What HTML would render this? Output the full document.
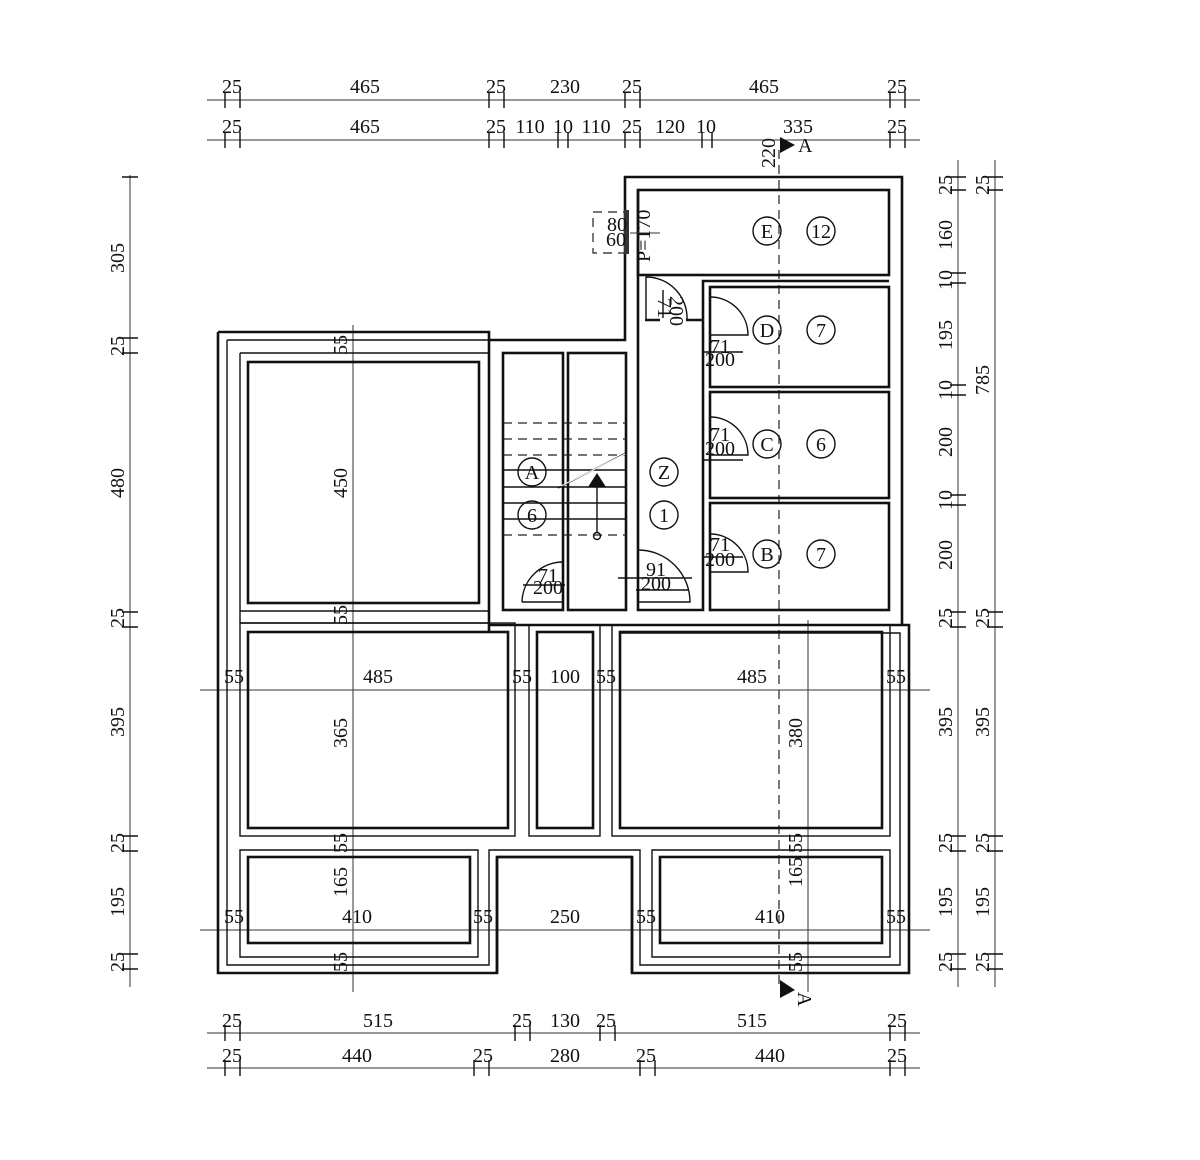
<!DOCTYPE html>
<html><head><meta charset="utf-8"><style>
html,body{margin:0;padding:0;background:#fff}
svg{display:block}
text{font-family:"Liberation Serif",serif;font-size:20px;fill:#111}
.t{stroke:#111;stroke-width:1.4;fill:none}
.b{stroke:#111;stroke-width:2.6;fill:none}
.th{stroke:#333;stroke-width:1;fill:none}
.d{stroke:#222;stroke-width:1.2;fill:none;stroke-dasharray:9 6}
</style></head><body>
<svg width="1200" height="1160" viewBox="0 0 1200 1160" xmlns="http://www.w3.org/2000/svg">
<g class="th">
<line x1="207" y1="100" x2="920" y2="100"/>
<line x1="207" y1="140" x2="920" y2="140"/>
<line x1="207" y1="1033" x2="920" y2="1033"/>
<line x1="207" y1="1068" x2="920" y2="1068"/>
<line x1="130" y1="175" x2="130" y2="987"/>
<line x1="958" y1="160" x2="958" y2="987"/>
<line x1="995" y1="160" x2="995" y2="987"/>
<line x1="200" y1="690" x2="930" y2="690"/>
<line x1="200" y1="930" x2="930" y2="930"/>
<line x1="353" y1="325" x2="353" y2="992"/>
<line x1="808" y1="620" x2="808" y2="992"/>
</g>
<g class="t" stroke-width="1.6">
<path d="M225 92v16M240 92v16M489 92v16M504 92v16M625 92v16M640 92v16M890 92v16M905 92v16"/>
<path d="M225 132v16M240 132v16M489 132v16M504 132v16M558 132v16M568 132v16M625 132v16M640 132v16M702 132v16M712 132v16M890 132v16M905 132v16"/>
<path d="M225 1025v16M240 1025v16M515 1025v16M530 1025v16M600 1025v16M615 1025v16M890 1025v16M905 1025v16"/>
<path d="M225 1060v16M240 1060v16M474 1060v16M489 1060v16M640 1060v16M655 1060v16M890 1060v16M905 1060v16"/>
<path d="M122 177h16M122 338h16M122 353h16M122 612h16M122 627h16M122 836h16M122 851h16M122 954h16M122 969h16"/>
<path d="M950 177h16M950 190h16M950 273h16M950 283h16M950 385h16M950 395h16M950 495h16M950 505h16M950 612h16M950 627h16M950 836h16M950 851h16M950 954h16M950 969h16"/>
<path d="M987 177h16M987 190h16M987 612h16M987 627h16M987 836h16M987 851h16M987 954h16M987 969h16"/>
</g>
<line class="d" x1="779" y1="150" x2="779" y2="990"/>
<polygon points="780,137 795,145 780,153" fill="#111"/>
<text x="798" y="152" font-size="14">A</text>
<text x="0" y="0" font-size="12" transform="translate(775,168) rotate(-90)">220</text>
<polygon points="780,980 795,990 780,998" fill="#111"/>
<text x="0" y="0" font-size="14" transform="translate(798,992) rotate(90)">A</text>

<g>
<path class="b" d="M218 332H489V631"/>
<path class="t" d="M227 340H489M240 353H489M240 353V623"/>
<rect class="b" x="248" y="362" width="231" height="241"/>
<path class="t" d="M240 611H489M240 623H489"/>
</g>
<path class="b" d="M218 332V973H497V857H632V973H909V625H489"/>
<path class="t" d="M227 340V965H489V850H640V965H900V633H620"/>
<rect class="t" x="240" y="623" width="275" height="213"/>
<rect class="b" x="248" y="632" width="260" height="196"/>
<rect class="t" x="529" y="625" width="71" height="211"/>
<rect class="b" x="537" y="632" width="56" height="196"/>
<rect class="t" x="612" y="625" width="278" height="211"/>
<rect class="b" x="620" y="632" width="262" height="196"/>
<path class="t" d="M240 957V850H478V957Z"/>
<rect class="b" x="248" y="857" width="222" height="86"/>
<path class="b" d="M497 857H632"/>
<path class="b" d="M497 857V973M632 857V973"/>
<path class="t" d="M652 957V850H890V957Z"/>
<rect class="b" x="660" y="857" width="222" height="86"/>

<path class="b" d="M490 340H625V177H902V625"/>
<rect class="b" x="503" y="353" width="60" height="257"/>
<rect class="b" x="568" y="353" width="58" height="257"/>
<path class="d" d="M503 423H626M503 439H626M503 455H626M503 535H626"/>
<path class="t" d="M503 470H626M503 487H626M503 503H626M503 519H626"/>
<line class="t" x1="558" y1="488" x2="626" y2="453" stroke-width="3"/>
<line x1="561" y1="486" x2="625" y2="454" stroke="#fff" stroke-width="1"/>
<polygon points="588,487 597,473 606,487" fill="#111"/>
<line class="t" x1="597" y1="487" x2="597" y2="533"/>
<circle class="t" cx="597" cy="536" r="3.5"/>
<rect class="b" x="638" y="190" width="251" height="85"/>
<path class="b" d="M638 190V610H703V281H889M703 281V610"/>
<rect class="b" x="710" y="287" width="179" height="100"/>
<rect class="b" x="710" y="392" width="179" height="106"/>
<rect class="b" x="710" y="503" width="179" height="107"/>
<path class="b" d="M645 320H660M686 320H703"/>
<g class="t">
<path d="M646 320V277A41 41 0 0 1 687 320"/>
<path d="M710 335H748A38 38 0 0 0 710 297"/>
<path d="M710 455H748A38 38 0 0 0 710 417"/>
<path d="M710 572H748A38 38 0 0 0 710 534"/>
<path d="M522 602H563V562A41 41 0 0 0 522 602"/>
<path d="M638 602H690A52 52 0 0 0 638 550"/>
<path d="M636 590h53M618 578h74M523 585h42M703 352h40M703 460h40M703 557h40M663 290v28"/>
</g>
<g text-anchor="middle" font-size="11">
<text x="720" y="353" font-size="11">71</text><text x="720" y="366" font-size="11">200</text>
<text x="720" y="441" font-size="11">71</text><text x="720" y="455" font-size="11">200</text>
<text x="720" y="551" font-size="11">71</text><text x="720" y="566" font-size="11">200</text>
<text x="548" y="582" font-size="11">71</text><text x="548" y="594" font-size="11">200</text>
<text x="656" y="576" font-size="11">91</text><text x="656" y="590" font-size="11">200</text>
</g>
<text x="0" y="0" font-size="11" transform="translate(658,298) rotate(90)">71</text>
<text x="0" y="0" font-size="11" transform="translate(670,296) rotate(90)">200</text>
<rect class="d" x="593" y="212" width="34" height="41" stroke-dasharray="5 4"/>
<rect x="624" y="210" width="5" height="44" fill="#333"/>
<text x="607" y="231" font-size="12">80</text><text x="606" y="246" font-size="12">60</text>
<path class="th" d="M630 233H660"/>
<text x="0" y="0" font-size="9" transform="translate(650,262) rotate(-90)">P=170</text>
<g class="t" stroke-width="1.2">
<circle cx="767" cy="231" r="14"/><circle cx="821" cy="231" r="14"/>
<circle cx="767" cy="330" r="14"/><circle cx="821" cy="330" r="14"/>
<circle cx="767" cy="444" r="14"/><circle cx="821" cy="444" r="14"/>
<circle cx="767" cy="554" r="14"/><circle cx="821" cy="554" r="14"/>
<circle cx="532" cy="472" r="14"/><circle cx="532" cy="515" r="14"/>
<circle cx="664" cy="472" r="14"/><circle cx="664" cy="515" r="14"/>
</g>
<g text-anchor="middle">
<text x="767" y="238">E</text><text x="821" y="238">12</text>
<text x="767" y="337">D</text><text x="821" y="337">7</text>
<text x="767" y="451">C</text><text x="821" y="451">6</text>
<text x="767" y="561">B</text><text x="821" y="561">7</text>
<text x="532" y="479">A</text><text x="532" y="522">6</text>
<text x="664" y="479">Z</text><text x="664" y="522">1</text>
<text x="232" y="93">25</text><text x="365" y="93">465</text><text x="496" y="93">25</text><text x="565" y="93">230</text><text x="632" y="93">25</text><text x="764" y="93">465</text><text x="897" y="93">25</text>
<text x="232" y="133">25</text><text x="365" y="133">465</text><text x="496" y="133">25</text><text x="530" y="133">110</text><text x="563" y="133">10</text><text x="596" y="133">110</text><text x="632" y="133">25</text><text x="670" y="133">120</text><text x="706" y="133">10</text><text x="798" y="133">335</text><text x="897" y="133">25</text>
<text x="232" y="1027">25</text><text x="378" y="1027">515</text><text x="522" y="1027">25</text><text x="565" y="1027">130</text><text x="606" y="1027">25</text><text x="752" y="1027">515</text><text x="897" y="1027">25</text>
<text x="232" y="1062">25</text><text x="357" y="1062">440</text><text x="483" y="1062">25</text><text x="565" y="1062">280</text><text x="646" y="1062">25</text><text x="770" y="1062">440</text><text x="897" y="1062">25</text>
<text x="234" y="683">55</text><text x="378" y="683">485</text><text x="522" y="683">55</text><text x="565" y="683">100</text><text x="606" y="683">55</text><text x="752" y="683">485</text><text x="896" y="683">55</text>
<text x="234" y="923">55</text><text x="357" y="923">410</text><text x="483" y="923">55</text><text x="565" y="923">250</text><text x="646" y="923">55</text><text x="770" y="923">410</text><text x="896" y="923">55</text>
</g>
<g text-anchor="middle">
<text transform="translate(124,258) rotate(-90)">305</text>
<text transform="translate(124,346) rotate(-90)">25</text>
<text transform="translate(124,483) rotate(-90)">480</text>
<text transform="translate(124,618) rotate(-90)">25</text>
<text transform="translate(124,722) rotate(-90)">395</text>
<text transform="translate(124,843) rotate(-90)">25</text>
<text transform="translate(124,902) rotate(-90)">195</text>
<text transform="translate(124,962) rotate(-90)">25</text>
<text transform="translate(952,185) rotate(-90)">25</text>
<text transform="translate(952,235) rotate(-90)">160</text>
<text transform="translate(952,280) rotate(-90)">10</text>
<text transform="translate(952,335) rotate(-90)">195</text>
<text transform="translate(952,390) rotate(-90)">10</text>
<text transform="translate(952,442) rotate(-90)">200</text>
<text transform="translate(952,500) rotate(-90)">10</text>
<text transform="translate(952,555) rotate(-90)">200</text>
<text transform="translate(952,618) rotate(-90)">25</text>
<text transform="translate(952,722) rotate(-90)">395</text>
<text transform="translate(952,843) rotate(-90)">25</text>
<text transform="translate(952,902) rotate(-90)">195</text>
<text transform="translate(952,962) rotate(-90)">25</text>
<text transform="translate(989,185) rotate(-90)">25</text>
<text transform="translate(989,380) rotate(-90)">785</text>
<text transform="translate(989,618) rotate(-90)">25</text>
<text transform="translate(989,722) rotate(-90)">395</text>
<text transform="translate(989,843) rotate(-90)">25</text>
<text transform="translate(989,902) rotate(-90)">195</text>
<text transform="translate(989,962) rotate(-90)">25</text>
<text transform="translate(347,345) rotate(-90)">55</text>
<text transform="translate(347,483) rotate(-90)">450</text>
<text transform="translate(347,615) rotate(-90)">55</text>
<text transform="translate(347,733) rotate(-90)">365</text>
<text transform="translate(347,843) rotate(-90)">55</text>
<text transform="translate(347,882) rotate(-90)">165</text>
<text transform="translate(347,962) rotate(-90)">55</text>
<text transform="translate(802,733) rotate(-90)">380</text>
<text transform="translate(802,843) rotate(-90)">55</text>
<text transform="translate(802,872) rotate(-90)">165</text>
<text transform="translate(802,962) rotate(-90)">55</text>
</g>
</svg>
</body></html>
